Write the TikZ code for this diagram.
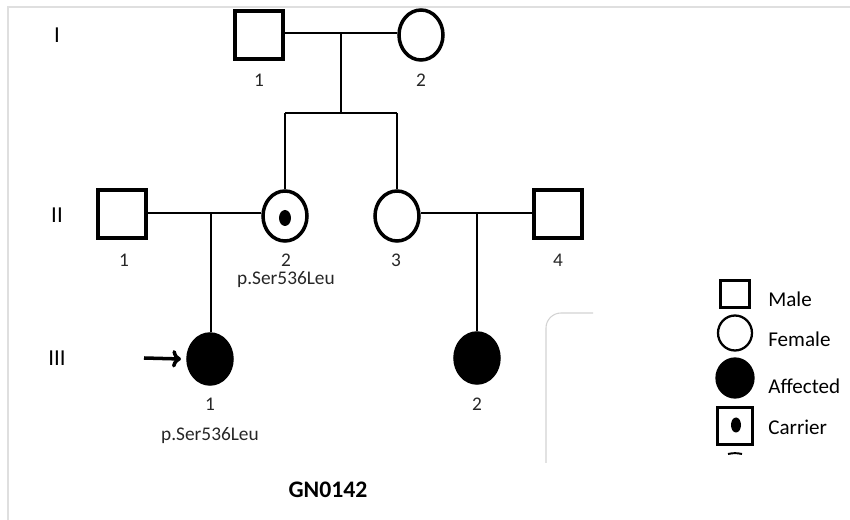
\documentclass[tikz,border=0pt]{standalone}
\usepackage{fontspec}
\setmainfont{Carlito}
\usetikzlibrary{shapes.geometric,arrows.meta}

\tikzset{
  male/.style={draw,line width=2pt,rectangle,minimum size=0.96cm,inner sep=0pt},
  female/.style={draw,line width=2pt,ellipse,minimum width=0.88cm,minimum height=1.0cm,inner sep=0pt},
  affected/.style={female,fill=black},
  dot/.style={fill=black,ellipse,minimum width=0.24cm,minimum height=0.32cm,inner sep=0pt},
  link/.style={line width=0.75pt},
  num/.style={font=\fontsize{11}{13}\selectfont,inner sep=0pt,text=black!85},
  gen/.style={font=\fontsize{13}{15}\selectfont,inner sep=0pt},
  key/.style={font=\fontsize{12}{14}\selectfont,anchor=west,inner sep=0pt}
}

\begin{document}
\begin{tikzpicture}[x=0.02cm,y=-0.02cm]
        \useasboundingbox (0,0) rectangle (850,520);
        \draw [gray!25,line width=0.9pt] (8,520) -- (8,7) -- (850,7);
        \node [gen] (gI) at (57,35) {I};
        \node [gen] (gII) at (57,215) {II};
        \node [gen] (gIII) at (57,358) {III};
        \node [male] (I1) at (259,35) {};
        \node [female] (I2) at (421,35) {};
        \node [num] at (259,80) {1};
        \node [num] at (421,80) {2};
        \node [male] (II1) at (122,214) {};
        \node [female] (II2) at (285,216) {};
        \node [dot] (II2c) at (285,218) {};
        \node [female] (II3) at (397,216) {};
        \node [male] (II4) at (558,214) {};
        \node [num] at (124,260) {1};
        \node [num] at (286,260) {2};
        \node [num] at (286,280) {p.Ser536Leu};
        \node [num] at (396,260) {3};
        \node [num] at (558,260) {4};
        \node [affected] (III1) at (210,359) {};
        \node [affected] (III2) at (477,358) {};
        \node [num] at (210,404) {1};
        \node [num] at (210,436) {p.Ser536Leu};
        \node [num] at (477,404) {2};
        \node [font=\fontsize{13.5}{15}\selectfont\bfseries,inner sep=0pt] (id) at (328,490) {GN0142};
        \coordinate (m1) at (341,33);
        \coordinate (s1) at (341,113);
        \coordinate (m2) at (211,213);
        \coordinate (m3) at (477,213);
        \draw [link] (I1.east |- m1) -- (I2.west |- m1);
        \draw [link] (m1) -- (s1);
        \draw [link] (II2.north |- s1) -- (II3.north |- s1);
        \draw [link] (II2.north |- s1) -- (II2.north);
        \draw [link] (II3.north |- s1) -- (II3.north);
        \draw [link] (II1.east |- m2) -- (II2.west |- m2);
        \draw [link] (II3.east |- m3) -- (II4.west |- m3);
        \draw [link] (m2) -- (m2 |- III1.north);
        \draw [link] (m3) -- (III2.north);
        \coordinate (tail) at (144,358);
        \draw [line width=2pt,-{To[length=5pt,width=10pt]}] (tail) -- ([xshift=-3pt]III1.west);
        \draw [gray!35,line width=0.6pt] (546,463) -- (546,328) arc (180:270:15) -- (593,313);
        \node [male,line width=1.3pt,minimum width=0.58cm,minimum height=0.54cm] (kM) at (735,294) {};
        \node [female,line width=1.3pt,minimum width=0.68cm,minimum height=0.7cm] (kF) at (735,333) {};
        \node [affected,line width=1.3pt,minimum width=0.74cm,minimum height=0.78cm] (kA) at (735,378) {};
        \node [male,line width=1.3pt,minimum width=0.7cm,minimum height=0.74cm] (kC) at (735,426) {};
        \node [dot,minimum width=0.2cm,minimum height=0.3cm] (kCd) at (736,425) {};
        \draw [line width=1.1pt] (728,454) to [bend left=12] (742,454);
        \node [key] at (768,299) {Male};
        \node [key] at (768,339) {Female};
        \node [key] at (768,386) {Affected};
        \node [key] at (768,427) {Carrier};
\end{tikzpicture}
\end{document}
